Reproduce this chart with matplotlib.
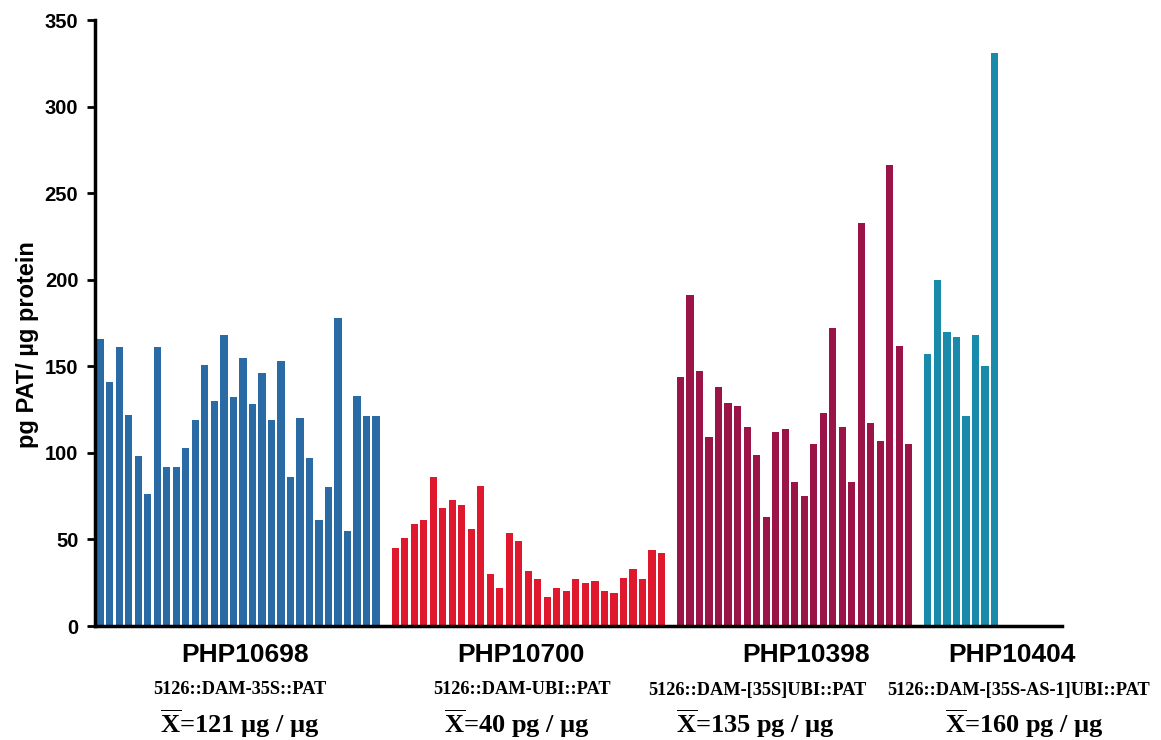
import matplotlib
matplotlib.use('Agg')
import matplotlib.pyplot as plt
import numpy as np

# bar heights (pg PAT / ug protein)
php10698 = [166, 141, 161, 122, 98, 76, 161, 92, 92, 103,
            119, 151, 130, 168, 132, 155, 128, 146, 119, 153,
            86, 120, 97, 61, 80, 178, 55, 133, 121, 121]
php10700 = [45, 51, 59, 61, 86, 68, 73, 70, 56, 81,
            30, 22, 54, 49, 32, 27, 17, 22, 20, 27,
            25, 26, 20, 19, 28, 33, 27, 44, 42]
php10398 = [144, 191, 147, 109, 138, 129, 127, 115, 99, 63,
            112, 114, 83, 75, 105, 123, 172, 115, 83, 233,
            117, 107, 266, 162, 105]
php10404 = [157, 200, 170, 167, 121, 168, 150, 331]

groups = ['PHP10698', 'PHP10700', 'PHP10398', 'PHP10404']
constructs = ['5126::DAM-35S::PAT', '5126::DAM-UBI::PAT',
              '5126::DAM-[35S]UBI::PAT', '5126::DAM-[35S-AS-1]UBI::PAT']
means = [r'$\overline{\mathrm{X}}$=121 µg / µg', r'$\overline{\mathrm{X}}$=40 pg / µg',
         r'$\overline{\mathrm{X}}$=135 pg / µg', r'$\overline{\mathrm{X}}$=160 pg / µg']
colors = ['#2a6aa5', '#e0182e', '#9a1448', '#1a8aab']
series = [php10698, php10700, php10398, php10404]

plt.rcParams['font.family'] = ['Liberation Sans', 'DejaVu Sans']
plt.rcParams['mathtext.fontset'] = 'custom'
plt.rcParams['mathtext.rm'] = 'Liberation Serif:bold'

W, H = 1161, 740
fig = plt.figure(figsize=(W / 100, H / 100), dpi=100)
ax = fig.add_axes([95 / W, 1 - 626 / H, (1062 - 95) / W, (626 - 20) / H])

# one empty slot between groups
start = 0
for vals, col in zip(series, colors):
    x = np.arange(start, start + len(vals))
    ax.bar(x, vals, width=0.76, color=col, linewidth=0)
    start += len(vals) + 1

ax.set_xlim(-0.55, 101.1)
ax.set_ylim(0, 350)
ax.set_yticks(np.arange(0, 351, 50))
ax.set_xticks([])
for s in ['top', 'right']:
    ax.spines[s].set_visible(False)
for s in ['left', 'bottom']:
    ax.spines[s].set_linewidth(2.5)
ax.tick_params(axis='y', direction='out', length=6, width=2, labelsize=14.5, pad=6)
for lab in ax.get_yticklabels():
    lab.set_fontweight('bold')
ax.set_ylabel('pg PAT/ µg protein', fontsize=17, fontweight='bold')
ax.yaxis.set_label_coords(-0.058, 0.464)

# labels under each group
centers_php = [245, 521, 806, 1012]
centers_con = [240, 522, 757, 1019]
centers_mean = [240, 517, 755, 1024]
for i in range(4):
    fig.text(centers_php[i] / W, 1 - 655 / H, groups[i], ha='center', va='center',
             fontsize=19, fontweight='bold')
    fig.text(centers_con[i] / W, 1 - 690 / H, constructs[i], ha='center', va='center',
             fontsize=13.2, fontweight='bold', family='Liberation Serif')
    fig.text(centers_mean[i] / W, 1 - 724 / H, means[i], ha='center', va='center',
             fontsize=19, fontweight='bold', family='Liberation Serif')

fig.savefig('out.png', dpi=100)
